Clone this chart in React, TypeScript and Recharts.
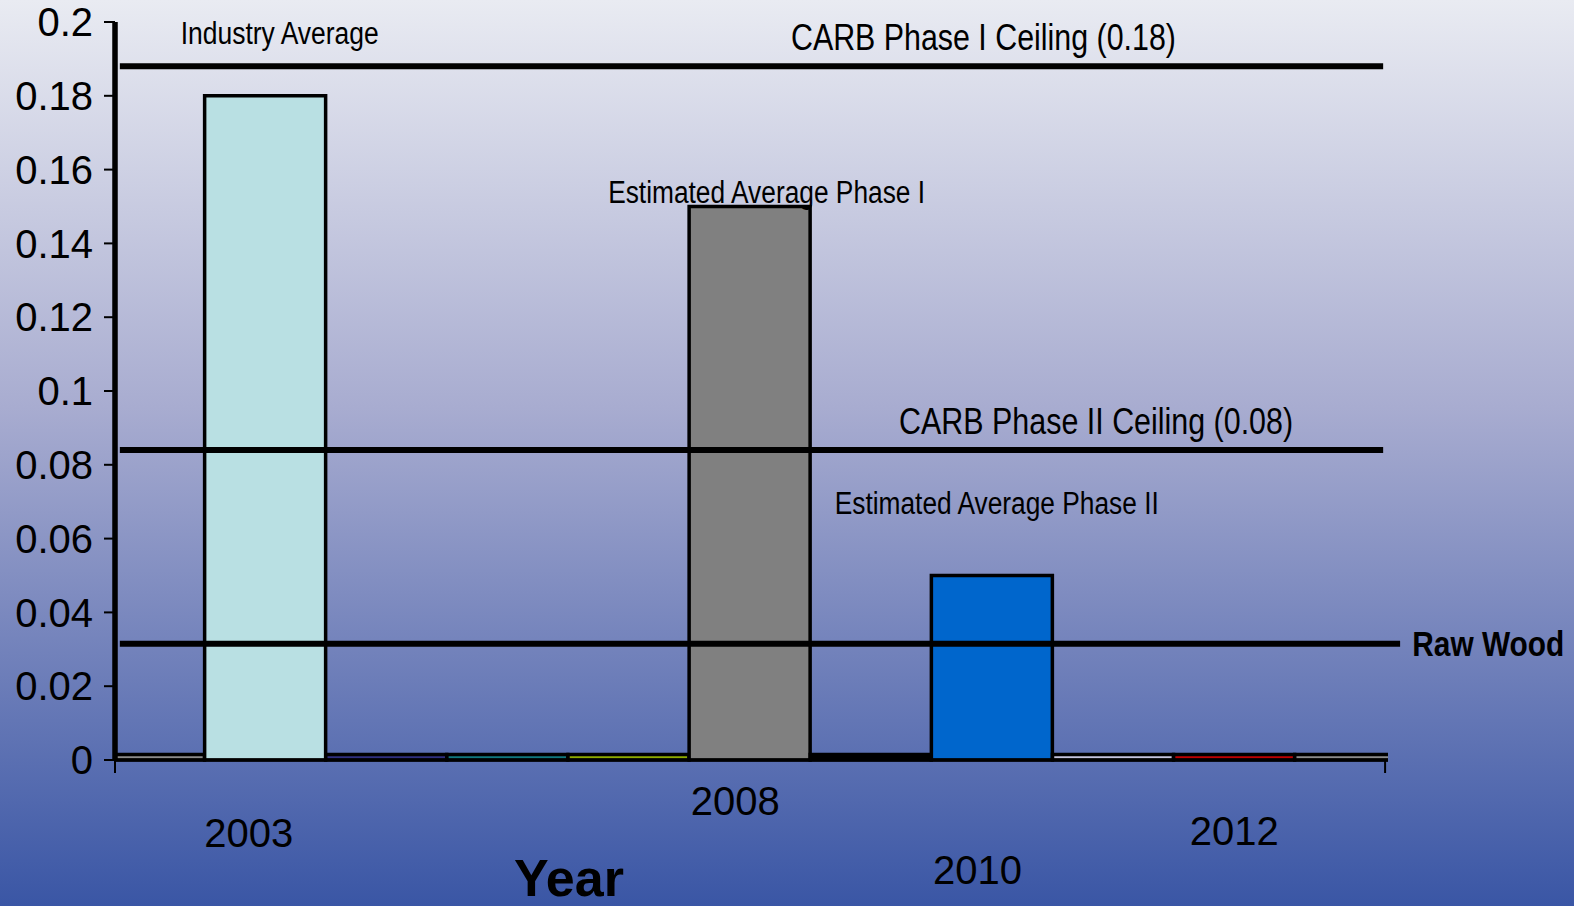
import React from 'react';
import {
  ComposedChart,
  Bar,
  Cell,
  XAxis,
  YAxis,
  CartesianGrid,
  ReferenceLine,
  ReferenceDot,
  Label,
} from 'recharts';

// one slot per bar, most of them sit on the floor (tiny values)
const SLOTS = [0, 1, 2, 3, 4, 5, 6, 7, 8, 9, 10];
const VALUES = [0.0015, 0.18, 0.0015, 0.0015, 0.0015, 0.15, 0.0015, 0.05, 0.0015, 0.0015, 0.0015];
const BAR_COLORS = [
  '#8c8c8c', '#b9e0e3', '#2f2f7e', '#11787e', '#8fab00', '#808080',
  '#000000', '#0066cc', '#c4c4dc', '#c00000', '#8c8c8c',
];

const Y_TICKS = [0, 0.02, 0.04, 0.06, 0.08, 0.1, 0.12, 0.14, 0.16, 0.18, 0.2];

// year labels sit between slots
const YEAR_POS = [0.865, 4.88, 6.88, 9.0];
const YEAR_LABELS = ['2003', '2008', '2010', '2012'];
const YEAR_DY = [87, 55, 124, 85];
const X_DOMAIN: [number, number] = [-0.24, 10.27];
const X_END_TICKS = [-0.24, 10.246];

// horizontal limits
const CEILING_I = 0.188;
const CEILING_II = 0.084;
const RAW_WOOD = 0.0315;

const SANS = '"Liberation Sans", Arial, sans-serif';

const data = SLOTS.map((s, i) => ({ slot: s, value: VALUES[i] }));

function fmtY(v: number) {
  return String(Number(v.toFixed(2)));
}

function XTick(props: any) {
  const { x, y, payload } = props;
  const idx = YEAR_POS.indexOf(payload.value);
  if (idx < 0) {
    return <line x1={x} x2={x} y1={y} y2={y + 13} stroke="#000" strokeWidth={2} />;
  }
  return (
    <text x={x} y={y + YEAR_DY[idx]} textAnchor="middle" fontFamily={SANS} fontSize={40} fill="#000">
      {YEAR_LABELS[idx]}
    </text>
  );
}

// narrow annotation text: no condensed font installed, so squeeze to the measured width
function note(text: string, size: number, width: number, anchor: 'middle' | 'start' = 'middle', bold = false) {
  return (props: any) => {
    const vb = props.viewBox || {};
    const cx = vb.x + (vb.width || 0) / 2;
    const cy = vb.y + (vb.height || 0) / 2;
    const left = anchor === 'middle' ? cx - width / 2 : cx;
    return (
      <text
        x={left}
        y={cy}
        dy="0.36em"
        textAnchor="start"
        textLength={width}
        lengthAdjust="spacingAndGlyphs"
        fontFamily={SANS}
        fontSize={size}
        fontWeight={bold ? 'bold' : 'normal'}
        fill="#000"
      >
        {text}
      </text>
    );
  };
}

export default function App() {
  return (
    <div
      style={{
        position: 'fixed',
        left: 0,
        top: 0,
        width: 1574,
        height: 906,
        background: 'linear-gradient(to bottom, #e9ebf2 0%, #a8acd0 45%, #3a56a5 100%)',
      }}
    >
      <ComposedChart
        width={1574}
        height={906}
        data={data}
        margin={{ top: 22, right: 186, left: 0, bottom: 5 }}
        barCategoryGap={0}
        barGap={0}
      >
        <CartesianGrid vertical={false} stroke="#111" strokeWidth={2} horizontalValues={Y_TICKS} />
        <XAxis
          dataKey="slot"
          type="number"
          domain={X_DOMAIN}
          allowDataOverflow
          ticks={[...X_END_TICKS, ...YEAR_POS]}
          interval={0}
          tick={<XTick />}
          tickLine={false}
          tickSize={0}
          tickMargin={0}
          height={141}
          axisLine={{ stroke: '#000', strokeWidth: 3 }}
        >
          <Label
            content={() => (
              <text x={569} y={896} textAnchor="middle" fontFamily={SANS} fontWeight="bold" fontSize={52} fill="#000">
                Year
              </text>
            )}
          />
        </XAxis>
        <YAxis
          yAxisId="left"
          domain={[0, 0.2]}
          ticks={Y_TICKS}
          interval={0}
          tickFormatter={fmtY}
          width={115}
          tickSize={11}
          tickMargin={11}
          tick={{ fontFamily: SANS, fontSize: 40, fill: '#000' }}
          tickLine={{ stroke: '#000', strokeWidth: 2 }}
          axisLine={{ stroke: '#000', strokeWidth: 5 }}
        />
        <YAxis
          yAxisId="right"
          orientation="right"
          domain={[0, 0.2]}
          width={0}
          tick={false}
          tickLine={false}
          axisLine={{ stroke: '#000', strokeWidth: 2 }}
        />
        <Bar
          yAxisId="left"
          dataKey="value"
          stroke="#000"
          strokeWidth={3.5}
          isAnimationActive={false}
        >
          {data.map((d, i) => (
            <Cell key={d.slot} fill={BAR_COLORS[i]} />
          ))}
        </Bar>
        {/* heavy left frame */}
        <ReferenceLine yAxisId="left" x={X_DOMAIN[0]} stroke="#000" strokeWidth={5} ifOverflow="visible" />
        <ReferenceLine
          yAxisId="left"
          segment={[{ x: -0.2, y: CEILING_I }, { x: 10.23, y: CEILING_I }]}
          stroke="#000"
          strokeWidth={6}
        />
        <ReferenceLine
          yAxisId="left"
          segment={[{ x: -0.2, y: CEILING_II }, { x: 10.23, y: CEILING_II }]}
          stroke="#000"
          strokeWidth={6}
        />
        <ReferenceLine
          yAxisId="left"
          segment={[{ x: -0.2, y: RAW_WOOD }, { x: 10.37, y: RAW_WOOD }]}
          stroke="#000"
          strokeWidth={6}
          ifOverflow="visible"
        />
        <ReferenceDot yAxisId="left" x={1.12} y={0.197} r={0} label={note('Industry Average', 31, 198)} />
        <ReferenceDot yAxisId="left" x={5.14} y={0.1539} r={0} label={note('Estimated Average Phase I', 31, 317)} />
        <ReferenceDot yAxisId="left" x={7.04} y={0.0696} r={0} label={note('Estimated Average Phase II', 31, 324)} />
        <ReferenceDot yAxisId="left" x={6.93} y={0.1959} r={0} label={note('CARB Phase I Ceiling (0.18)', 36, 385)} />
        <ReferenceDot yAxisId="left" x={7.86} y={0.0918} r={0} label={note('CARB Phase II Ceiling (0.08)', 36, 394)} />
        <ReferenceDot
          yAxisId="left"
          x={10.47}
          y={RAW_WOOD}
          r={0}
          ifOverflow="visible"
          label={note('Raw Wood', 35, 152, 'start', true)}
        />
      </ComposedChart>
    </div>
  );
}
